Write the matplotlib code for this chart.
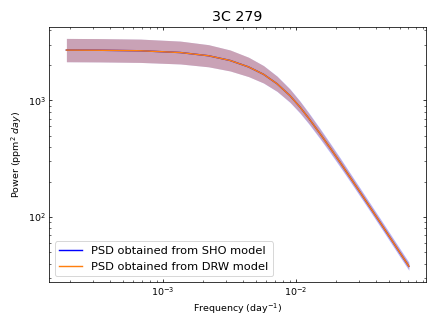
import numpy as np
import matplotlib
matplotlib.use('Agg')
import matplotlib.pyplot as plt

# frequency grid (day^-1) and PSD values
freq = [1.88e-4, 3.4e-4, 6.8e-4, 1.35e-3, 2.2e-3, 3.2e-3, 4.4e-3, 5.7e-3,
        7.2e-3, 9.0e-3, 1.07e-2, 1.25e-2, 1.51e-2, 1.8e-2, 2.14e-2, 2.54e-2,
        3.0e-2, 3.59e-2, 4.3e-2, 5.07e-2, 6.0e-2, 7.05e-2]
psd_sho = [2706, 2696, 2669, 2578, 2419, 2203, 1940, 1677,
           1392, 1101, 879.6, 700.9, 522.9, 393.9, 295.8, 220.9,
           166.3, 122.1, 89.5, 67.2, 50.1, 37.9]
psd_drw = [2706, 2696, 2669, 2578, 2419, 2203, 1940, 1677,
           1392, 1101, 879.6, 700.9, 522.9, 393.9, 295.8, 220.9,
           166.3, 122.1, 89.5, 67.2, 50.1, 37.9]

# uncertainty bands
sho_hi = [3407, 3394, 3360, 3231, 3010, 2710, 2349, 1993,
          1620, 1258, 991, 783, 579, 433, 324, 240.5,
          180.7, 132.3, 97.0, 72.8, 54.3, 41.1]
sho_lo = [2149, 2141, 2120, 2057, 1944, 1791, 1602, 1411,
          1196, 963, 780, 628, 472, 358, 270, 202.9,
          153.1, 112.7, 82.6, 62.0, 46.2, 35.0]
drw_hi = [3407, 3394, 3360, 3231, 3010, 2710, 2349, 1989,
          1613, 1247, 980, 770, 567, 423, 315.5, 234.5,
          175.7, 128.7, 94.2, 70.7, 52.7, 39.9]
drw_lo = [2149, 2141, 2120, 2057, 1944, 1791, 1602, 1414,
          1201, 972, 789, 638, 482, 367, 277, 208.1,
          157.4, 115.8, 85.1, 63.9, 47.6, 36.0]

fig = plt.figure(figsize=(6.4, 4.8), dpi=68.125)
ax = fig.add_subplot(111)
fig.subplots_adjust(left=0.113, right=0.977, bottom=0.138, top=0.918)

ax.fill_between(freq, sho_lo, sho_hi, color='blue', alpha=0.3, lw=0, zorder=1)
ax.fill_between(freq, drw_lo, drw_hi, color='C1', alpha=0.3, lw=0, zorder=1)
ax.plot(freq, psd_sho, color='blue', label='PSD obtained from SHO model', zorder=2)
ax.plot(freq, psd_drw, color='C1', label='PSD obtained from DRW model', zorder=3)

ax.set_xscale('log')
ax.set_yscale('log')
ax.tick_params(which='both', direction='in', top=True, right=True)
ax.set_xlabel('Frequency (day$^{-1}$)')
ax.set_ylabel('Power (ppm$^2$ $day$)')
ax.set_title('3C 279', fontsize=15)
ax.legend(loc='lower left', fontsize=12)

plt.savefig('out.png', dpi=68.125)
